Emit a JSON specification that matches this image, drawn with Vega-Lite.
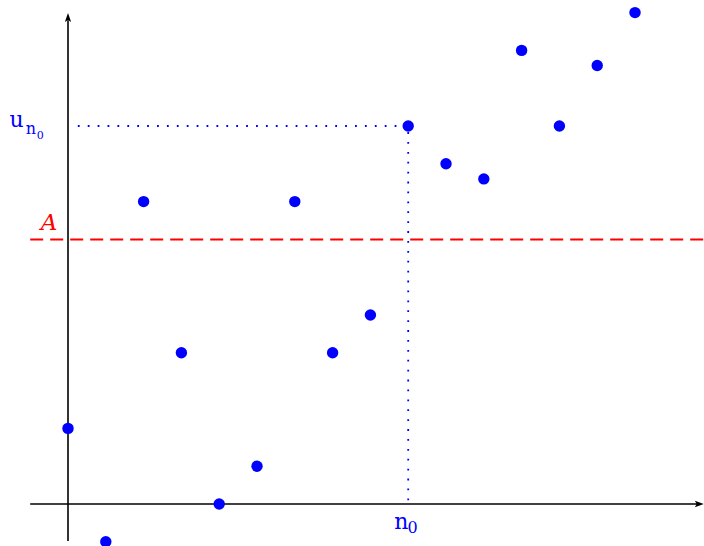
{
  "$schema": "https://vega.github.io/schema/vega-lite/v6.json",
  "width": 704,
  "height": 546,
  "autosize": "none",
  "padding": 0,
  "background": "white",
  "config": {"view": {"stroke": null}},
  "datasets": {
    "seq": [
      {"n": 0, "u": 2}, {"n": 1, "u": -1}, {"n": 2, "u": 8}, {"n": 3, "u": 4},
      {"n": 4, "u": 0}, {"n": 5, "u": 1}, {"n": 6, "u": 8}, {"n": 7, "u": 4},
      {"n": 8, "u": 5}, {"n": 9, "u": 10}, {"n": 10, "u": 9}, {"n": 11, "u": 8.6},
      {"n": 12, "u": 12}, {"n": 13, "u": 10}, {"n": 14, "u": 11.6}, {"n": 15, "u": 13}
    ],
    "axesLines": [
      {"name": "xaxis", "x": -1, "x2": 16.72, "y": 0, "y2": 0},
      {"name": "yaxis", "x": 0, "x2": 0, "y": -0.98, "y2": 12.8}
    ],
    "arrows": [
      {"dir": "right", "x": 16.68, "y": 0},
      {"dir": "up", "x": 0, "y": 12.85}
    ],
    "limit": [{"x": -1, "x2": 16.83, "y": 7}],
    "guides": [
      {"x": 0.26, "x2": 9, "y": 10, "y2": 10},
      {"x": 9, "x2": 9, "y": 0.1, "y2": 10}
    ],
    "labels": [
      {"text": "A", "role": "A", "x": -0.5, "y": 7.25},
      {"text": "u", "role": "main", "x": -1.55, "y": 9.97},
      {"text": "n", "role": "sub", "x": -1.12, "y": 9.79},
      {"text": "0", "role": "subsub", "x": -0.83, "y": 9.66},
      {"text": "n", "role": "main", "x": 8.63, "y": -0.66},
      {"text": "0", "role": "sub", "x": 8.98, "y": -0.76}
    ]
  },
  "resolve": {"scale": {"x": "shared", "y": "shared"}},
  "layer": [
    {
      "data": {"name": "axesLines"},
      "mark": {"type": "rule", "color": "black", "strokeWidth": 1.6},
      "encoding": {
        "x": {"field": "x", "type": "quantitative", "scale": {"domain": [-1.799, 16.825], "nice": false, "zero": false}, "axis": null},
        "x2": {"field": "x2"},
        "y": {"field": "y", "type": "quantitative", "scale": {"domain": [-1.111, 13.333], "nice": false, "zero": false}, "axis": null},
        "y2": {"field": "y2"}
      }
    },
    {
      "data": {"name": "arrows"},
      "transform": [{"filter": "datum.dir === 'up'"}],
      "mark": {"type": "point", "filled": true, "color": "black", "opacity": 1, "size": 110, "shape": "M0,-1L0.6,0.7L0,0.35L-0.6,0.7Z"},
      "encoding": {
        "x": {"field": "x", "type": "quantitative"},
        "y": {"field": "y", "type": "quantitative"}
      }
    },
    {
      "data": {"name": "arrows"},
      "transform": [{"filter": "datum.dir === 'right'"}],
      "mark": {"type": "point", "filled": true, "color": "black", "opacity": 1, "size": 110, "shape": "M1,0L-0.7,0.6L-0.35,0L-0.7,-0.6Z"},
      "encoding": {
        "x": {"field": "x", "type": "quantitative"},
        "y": {"field": "y", "type": "quantitative"}
      }
    },
    {
      "data": {"name": "limit"},
      "mark": {"type": "rule", "color": "#ff0000", "strokeWidth": 2, "strokeDash": [13, 7]},
      "encoding": {
        "x": {"field": "x", "type": "quantitative"},
        "x2": {"field": "x2"},
        "y": {"field": "y", "type": "quantitative"}
      }
    },
    {
      "data": {"name": "guides"},
      "mark": {"type": "rule", "color": "#0000ff", "strokeWidth": 1.8, "strokeDash": [1.8, 8.1]},
      "encoding": {
        "x": {"field": "x", "type": "quantitative"},
        "x2": {"field": "x2"},
        "y": {"field": "y", "type": "quantitative"},
        "y2": {"field": "y2"}
      }
    },
    {
      "data": {"name": "seq"},
      "mark": {"type": "point", "filled": true, "color": "#0000ff", "opacity": 1, "size": 130, "shape": "circle"},
      "encoding": {
        "x": {"field": "n", "type": "quantitative"},
        "y": {"field": "u", "type": "quantitative"}
      }
    },
    {
      "data": {"name": "labels"},
      "transform": [{"filter": "datum.role === 'A'"}],
      "mark": {"type": "text", "color": "#ff0000", "font": "DejaVu Serif", "fontStyle": "italic", "fontSize": 23, "align": "center", "baseline": "alphabetic"},
      "encoding": {
        "x": {"field": "x", "type": "quantitative"},
        "y": {"field": "y", "type": "quantitative"},
        "text": {"field": "text"}
      }
    },
    {
      "data": {"name": "labels"},
      "transform": [{"filter": "datum.role === 'main'"}],
      "mark": {"type": "text", "color": "#0000ff", "font": "DejaVu Serif", "fontSize": 22, "align": "left", "baseline": "alphabetic"},
      "encoding": {
        "x": {"field": "x", "type": "quantitative"},
        "y": {"field": "y", "type": "quantitative"},
        "text": {"field": "text"}
      }
    },
    {
      "data": {"name": "labels"},
      "transform": [{"filter": "datum.role === 'sub'"}],
      "mark": {"type": "text", "color": "#0000ff", "font": "DejaVu Serif", "fontSize": 16, "align": "left", "baseline": "alphabetic"},
      "encoding": {
        "x": {"field": "x", "type": "quantitative"},
        "y": {"field": "y", "type": "quantitative"},
        "text": {"field": "text"}
      }
    },
    {
      "data": {"name": "labels"},
      "transform": [{"filter": "datum.role === 'subsub'"}],
      "mark": {"type": "text", "color": "#0000ff", "font": "DejaVu Serif", "fontSize": 11, "align": "left", "baseline": "alphabetic"},
      "encoding": {
        "x": {"field": "x", "type": "quantitative"},
        "y": {"field": "y", "type": "quantitative"},
        "text": {"field": "text"}
      }
    }
  ]
}
